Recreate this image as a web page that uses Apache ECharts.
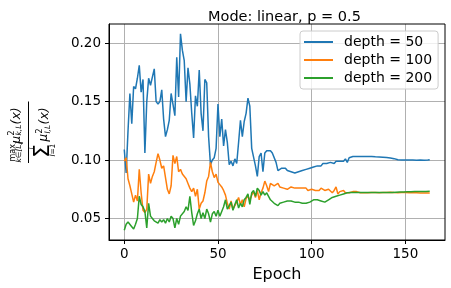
<!DOCTYPE html>
<html><head><meta charset="utf-8">
<script src="https://cdn.jsdelivr.net/npm/echarts@6/dist/echarts.min.js"></script>
<style>html,body{margin:0;padding:0;background:#fff}#c{width:451px;height:288px}</style>
</head><body><div id="c"></div>
<script>
const titleText = "Mode: linear, p = 0.5";
const xName = "Epoch";
const seriesNames = ["depth = 50", "depth = 100", "depth = 200"];
const xTicks = [0, 50, 100, 150];
const yTicks = [0.05, 0.10, 0.15, 0.20];

const depth50 = [
0.109,0.089,0.125,0.157,0.131,0.163,0.161,0.170,0.181,0.158,
0.169,0.106,0.150,0.170,0.164,0.163,0.178,0.150,0.148,0.150,
0.160,0.135,0.120,0.126,0.134,0.157,0.158,0.138,0.188,0.154,
0.208,0.194,0.185,0.150,0.179,0.165,0.140,0.119,0.155,0.146,
0.177,0.140,0.125,0.169,0.166,0.120,0.096,0.100,0.102,0.110,
0.148,0.120,0.135,0.112,0.126,0.115,0.096,0.099,0.095,0.101,
0.097,0.115,0.134,0.120,0.133,0.140,0.153,0.146,0.110,0.110,
0.095,0.086,0.103,0.106,0.090,0.106,0.108,0.109,0.108,0.106,
0.105,0.098,0.091,0.091,0.093,0.094,0.093,0.091,0.090,0.090,
0.089,0.089,0.090,0.090,0.091,0.091,0.092,0.092,0.093,0.093,
0.094,0.094,0.093,0.095,0.096,0.095,0.097,0.096,0.097,0.097,
0.098,0.098,0.097,0.099,0.098,0.099,0.100,0.099,0.101,0.098,
0.102,0.101,0.103,0.103,0.103,0.103,0.103,0.103,0.103,0.103,
0.103,0.103,0.103,0.1028,0.1028,0.1027,0.1027,0.1026,0.1025,0.1024,
0.1022,0.102,0.1018,0.1015,0.1012,0.1005,0.1002,0.100,0.100,0.100,
0.100,0.100,0.100,0.100,0.100,0.0998,0.0998,0.100,0.100,0.0998,
0.0998,0.100,0.100,0.1003];

const depth100 = [
0.099,0.102,0.084,0.078,0.071,0.064,0.070,0.065,0.092,0.072,
0.057,0.055,0.058,0.088,0.080,0.086,0.090,0.098,0.1055,0.100,
0.093,0.095,0.085,0.075,0.071,0.078,0.104,0.097,0.103,0.090,
0.092,0.088,0.089,0.084,0.080,0.076,0.073,0.076,0.069,0.075,
0.058,0.063,0.065,0.072,0.082,0.086,0.098,0.090,0.085,0.088,
0.081,0.079,0.077,0.074,0.070,0.063,0.058,0.065,0.058,0.061,
0.064,0.068,0.062,0.066,0.060,0.067,0.069,0.066,0.070,0.073,
0.068,0.074,0.066,0.072,0.076,0.082,0.078,0.073,0.080,0.079,
0.078,0.079,0.080,0.077,0.078,0.076,0.077,0.075,0.076,0.077,
0.076,0.076,0.077,0.076,0.075,0.076,0.075,0.076,0.074,0.075,
0.075,0.076,0.074,0.075,0.074,0.076,0.075,0.074,0.073,0.075,
0.074,0.072,0.074,0.077,0.071,0.073,0.072,0.074,0.072,0.073,
0.072,0.073,0.073,0.074,0.073,0.073,0.072,0.073,0.072,0.073,
0.072,0.0725,0.0722,0.0724,0.0722,0.0723,0.0721,0.0724,0.0722,0.0721,
0.0723,0.0722,0.0724,0.0721,0.0722,0.0723,0.0721,0.0722,0.0722,0.0721,
0.0722,0.0720,0.0721,0.0720,0.0721,0.0719,0.0720,0.0719,0.0719,0.0718,
0.0719,0.0718,0.0718,0.0718];

const depth200 = [
0.040,0.045,0.047,0.048,0.043,0.041,0.045,0.050,0.069,0.062,
0.060,0.056,0.042,0.063,0.052,0.050,0.048,0.049,0.046,0.049,
0.047,0.049,0.046,0.050,0.047,0.052,0.050,0.042,0.050,0.045,
0.052,0.053,0.056,0.060,0.057,0.069,0.055,0.044,0.048,0.054,
0.058,0.050,0.055,0.050,0.058,0.054,0.047,0.054,0.056,0.052,
0.057,0.052,0.056,0.060,0.066,0.058,0.061,0.064,0.057,0.062,
0.066,0.059,0.063,0.060,0.066,0.068,0.071,0.062,0.072,0.074,
0.069,0.076,0.074,0.070,0.073,0.070,0.072,0.069,0.066,0.066,
0.063,0.062,0.061,0.063,0.063,0.064,0.065,0.065,0.066,0.065,
0.066,0.064,0.065,0.064,0.065,0.063,0.064,0.063,0.064,0.064,
0.065,0.066,0.065,0.066,0.066,0.065,0.066,0.064,0.065,0.066,
0.067,0.068,0.069,0.069,0.070,0.070,0.071,0.071,0.071,0.072,
0.0722,0.0722,0.0723,0.0722,0.0723,0.0722,0.0722,0.0723,0.0722,0.0722,
0.0723,0.0722,0.0722,0.0723,0.0722,0.0723,0.0724,0.0723,0.0722,0.0723,
0.0724,0.0723,0.0724,0.0723,0.0724,0.0725,0.0724,0.0726,0.0725,0.0727,
0.0726,0.0728,0.0730,0.0728,0.0730,0.0731,0.0729,0.0731,0.0732,0.0730,
0.0732,0.0731,0.0733,0.0733];

const colors = ['#1f77b4', '#ff7f0e', '#2ca02c'];
const allSeries = [depth50, depth100, depth200];
const FONT = 'DejaVu Sans';

const chart = echarts.init(document.getElementById('c'), null, {renderer: 'canvas'});

function txt(s, x, y, size, italic) {
  return {type: 'text', x: x, y: y, style: {text: s, font: (italic ? 'italic ' : '') + size + 'px "DejaVu Sans"', fill: '#000', align: 'left', verticalAlign: 'middle'}};
}

const option = {
  animation: false,
  backgroundColor: '#ffffff',
  title: {text: titleText, left: 203, top: 5, textStyle: {fontFamily: FONT, fontSize: 14.5, fontWeight: 'normal', color: '#000'}},
  legend: {
    orient: 'vertical', left: 300, top: 31,
    data: seriesNames,
    icon: 'rect', itemWidth: 29, itemHeight: 2, itemGap: 4,
    padding: [4, 6, 4, 4],
    backgroundColor: 'rgba(255,255,255,0.8)', borderColor: '#cccccc', borderWidth: 1, borderRadius: 3,
    textStyle: {fontFamily: FONT, fontSize: 14, color: '#000', padding: [0, 0, 0, 6]}
  },
  grid: {left: 109, top: 24, width: 336, height: 216, show: false},
  xAxis: {
    type: 'value', min: -8.15, max: 171.15,
    name: xName, nameLocation: 'middle', nameGap: 27,
    nameTextStyle: {fontFamily: FONT, fontSize: 16, color: '#000'},
    axisLine: {show: true, onZero: false, lineStyle: {color: '#000', width: 1}},
    axisTick: {show: true, length: 4, lineStyle: {color: '#000'}, customValues: xTicks},
    axisLabel: {show: true, fontFamily: FONT, fontSize: 13.5, color: '#000', margin: 7, customValues: xTicks},
    splitLine: {show: true, lineStyle: {color: '#b0b0b0', width: 1}}
  },
  yAxis: {
    type: 'value', min: 0.0316, max: 0.2164,
    axisLine: {show: true, onZero: false, lineStyle: {color: '#000', width: 1}},
    axisTick: {show: true, length: 4, lineStyle: {color: '#000'}, customValues: yTicks},
    axisLabel: {show: true, fontFamily: FONT, fontSize: 13.5, color: '#000', margin: 8, customValues: yTicks, formatter: v => v.toFixed(2)},
    splitLine: {show: true, lineStyle: {color: '#b0b0b0', width: 1}}
  },
  series: allSeries.map((arr, i) => ({
    name: seriesNames[i], type: 'line', showSymbol: false, symbol: 'none',
    data: arr.map((v, k) => [k, v]),
    lineStyle: {color: colors[i], width: 1.5}, itemStyle: {color: colors[i]},
    clip: true, z: 2 + i
  })),
  graphic: [
    {type: 'rect', z: 100, silent: true, shape: {x: 109, y: 24, width: 336, height: 216}, style: {fill: 'none', stroke: '#000', lineWidth: 1}},
    {type: 'group', x: 28.5, y: 132.5, rotation: Math.PI / 2, children: [
      {type: 'line', shape: {x1: -30.5, y1: 0, x2: 31, y2: 0}, style: {stroke: '#000', lineWidth: 1}},
      txt('max', -29, -15.5, 8, false),
      txt('k∈[L]', -30, -9.5, 7.5, true),
      txt('μ', -11, -12, 12, true),
      txt('2', -3, -17, 8, false),
      txt('k,L', -3, -9.5, 7.5, true),
      txt('(x)', 8, -12, 12.5, true),
      txt('L', -17, 4, 7, true),
      txt('Σ', -25.5, 14.5, 22, false),
      txt('l=1', -24, 25, 7.5, true),
      txt('μ', -9, 15.5, 12, true),
      txt('2', -1, 11, 8, false),
      txt('l,L', -1, 19.5, 7.5, true),
      txt('(x)', 8, 16, 12.5, true)
    ]}
  ]
};
chart.setOption(option);
</script></body></html>
